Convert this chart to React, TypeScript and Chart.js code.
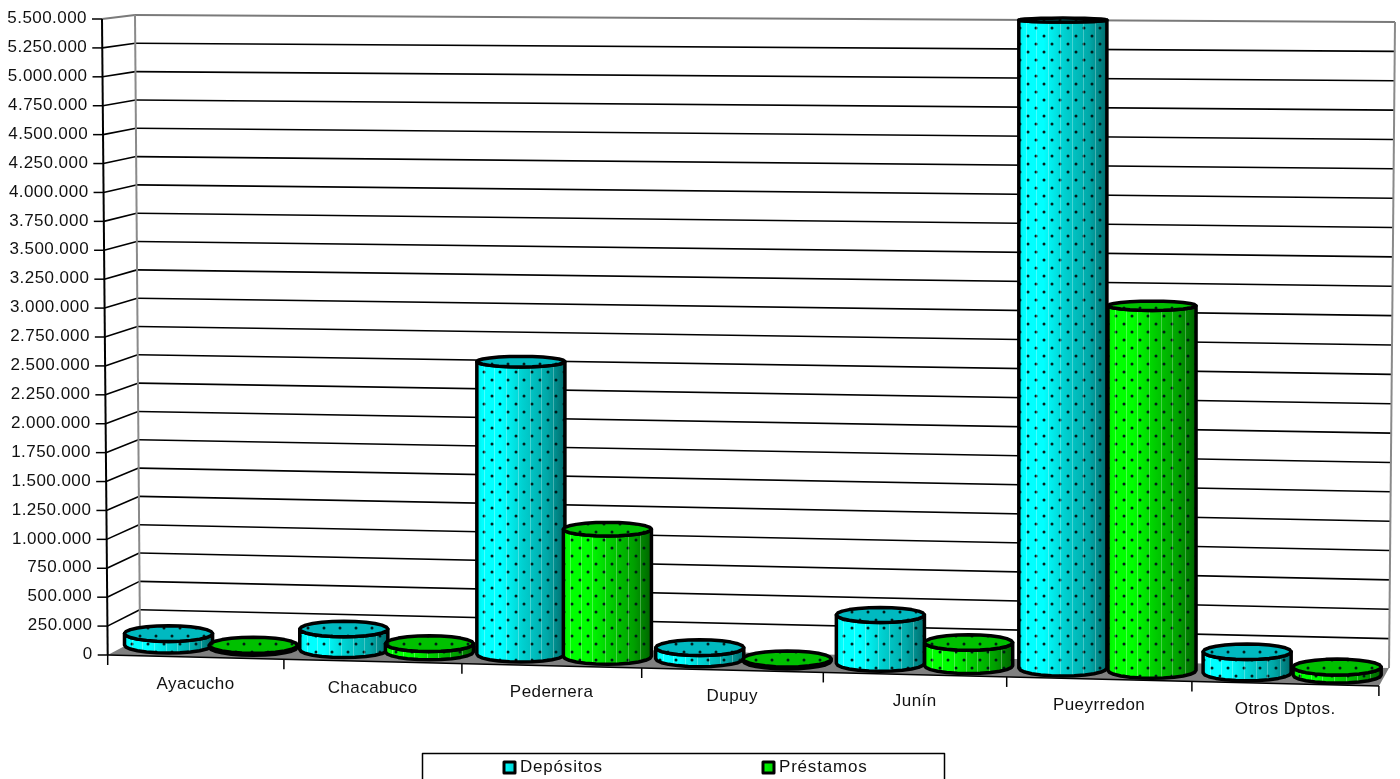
import React, { useEffect, useRef } from "react";
import { Chart, registerables } from "chart.js";

Chart.register(...registerables);

const categories = ["Ayacucho", "Chacabuco", "Pedernera", "Dupuy", "Junín", "Pueyrredon", "Otros Dptos."];
const depositos = [99000, 176000, 2504000, 94000, 412000, 5500000, 178000];
const prestamos = [17000, 69000, 1087000, 17000, 196000, 3090000, 68000];
const seriesNames = ["Depósitos", "Préstamos"];
const axisMax = 5500000;
const axisStep = 250000;

const FONT = '17px "Liberation Sans", Arial, sans-serif';
const TEXT = "#111111";

const frontX = (u: number) => 107.7 + 175.3 * u + 0.9 * u * u;
const frontAxis = (t: number) => ({ x: 107.7 - 5.7 * t, y: 655 - 636 * t });
const wallL = (t: number) => ({ x: 140 - 5 * t, y: 638 - 623 * t });
const wallR = (t: number) => ({ x: 1389 + 6 * t, y: 668 - 646 * t });

function dotTile(): HTMLCanvasElement {
  const c = document.createElement("canvas");
  c.width = 16;
  c.height = 16;
  const g = c.getContext("2d")!;
  for (const [x, y] of [[4, 4], [12, 12]]) {
    g.fillStyle = "rgba(0,20,20,0.95)";
    g.beginPath();
    g.arc(x, y, 1.5, 0, Math.PI * 2);
    g.fill();
  }
  return c;
}

const palettes = [
  { stops: ["#00e8e8", "#00ffff", "#00ffff", "#00d0d0", "#00a8a8", "#006c6c"], top: "#00b9c0" },
  { stops: ["#00e800", "#00ff00", "#00ff00", "#00d000", "#00a000", "#006400"], top: "#00c000" },
];
const stopAt = [0, 0.06, 0.28, 0.52, 0.8, 1];

function ellipsePts(cx: number, cy: number, rx: number, ry: number, from: number, to: number, n: number) {
  const pts: [number, number][] = [];
  for (let i = 0; i <= n; i++) {
    const a = from + ((to - from) * i) / n;
    pts.push([cx + rx * Math.cos(a), cy + ry * Math.sin(a)]);
  }
  return pts;
}

function drawCylinder(ctx: CanvasRenderingContext2D, el: any, area: any, unitW: number, series: number, pattern: CanvasPattern) {
  const u = (el.x - area.left) / unitW;
  const cx = frontX(u) + 16 - 1.4 * u;
  const w = el.width;
  const t = (el.base - el.y) / (area.bottom - area.top);
  const unit = 29.0 + 0.00047 * (cx - 100);
  const bottom = 653 + 0.0257 * (cx - 167);
  const yBase = bottom - 8;
  const yTop = yBase - t * 22 * unit;
  const ryTop = 8 - 6 * t;
  const rx = w / 2;
  const pal = palettes[series];

  const body = [
    ...ellipsePts(cx, yBase, rx, 8, 0, Math.PI, 12),
    ...ellipsePts(cx, yTop, rx, ryTop, Math.PI, 0, 12),
  ];
  const trace = (pts: [number, number][]) => {
    ctx.beginPath();
    pts.forEach(([x, y], i) => (i ? ctx.lineTo(x, y) : ctx.moveTo(x, y)));
    ctx.closePath();
  };
  const grad = ctx.createLinearGradient(cx - rx, 0, cx + rx, 0);
  pal.stops.forEach((c, i) => grad.addColorStop(stopAt[i], c));
  trace(body);
  ctx.fillStyle = grad;
  ctx.fill();

  ctx.save();
  trace(body);
  ctx.clip();
  ctx.fillStyle = pattern;
  ctx.fillRect(cx - rx, yTop - 10, w, yBase - yTop + 20);
  ctx.strokeStyle = "rgba(255,255,255,0.28)";
  ctx.lineWidth = 1;
  for (const f of [0.08, 0.2, 0.33, 0.47, 0.6, 0.73, 0.87]) {
    ctx.beginPath();
    ctx.moveTo(Math.round(cx - rx + f * w) + 0.5, yTop - 10);
    ctx.lineTo(Math.round(cx - rx + f * w) + 0.5, yBase + 10);
    ctx.stroke();
  }
  ctx.restore();

  ctx.lineJoin = "round";
  ctx.lineWidth = 3.5;
  ctx.strokeStyle = "#000";
  trace(body);
  ctx.stroke();

  const topPts = ellipsePts(cx, yTop, rx, ryTop, 0, Math.PI * 2, 24);
  trace(topPts);
  ctx.fillStyle = pal.top;
  ctx.fill();
  ctx.save();
  trace(topPts);
  ctx.clip();
  ctx.fillStyle = pattern;
  ctx.fillRect(cx - rx, yTop - 12, w, 24);
  ctx.restore();
  ctx.lineWidth = 3.5;
  trace(topPts);
  ctx.stroke();
}

const scenePlugin = {
  id: "scene3d",
  beforeDatasetsDraw(chart: any) {
    const ctx: any = chart.ctx;
    const yS = chart.scales.y;
    const xS = chart.scales.x;
    const area = chart.chartArea;
    const H = area.bottom - area.top;
    const unitW = (area.right - area.left) / categories.length;
    const frac = (v: number) => (area.bottom - yS.getPixelForValue(v)) / H;
    const line = (a: any, b: any, color: string, lw: number) => {
      ctx.strokeStyle = color;
      ctx.lineWidth = lw;
      ctx.beginPath();
      ctx.moveTo(a.x, a.y);
      ctx.lineTo(b.x, b.y);
      ctx.stroke();
    };

    ctx.save();
    // side and back walls, with their gridlines
    for (const tick of yS.ticks) {
      const t = frac(tick.value);
      const top = Math.abs(t - 1) < 1e-6;
      if (t > 1e-6) {
        line(frontAxis(t), wallL(t), top ? "#7a7a7a" : "#000", top ? 2 : 1.6);
        line(wallL(t), wallR(t), top ? "#7a7a7a" : "#000", top ? 2 : 1.6);
      }
    }
    line(wallL(0), wallL(1), "#8a8a8a", 2);
    line(wallR(0), wallR(1), "#8a8a8a", 2);

    // floor
    ctx.fillStyle = "#808080";
    ctx.beginPath();
    ctx.moveTo(107.7, 655);
    ctx.lineTo(140, 638);
    ctx.lineTo(1389, 668);
    ctx.lineTo(1379, 686);
    ctx.closePath();
    ctx.fill();
    line({ x: 107.7, y: 655 }, { x: 1379, y: 686 }, "#000", 1.5);
    line(frontAxis(0), frontAxis(1), "#000", 2);

    // value axis ticks and labels
    ctx.font = FONT;
    ctx.letterSpacing = "0.45px";
    ctx.fillStyle = TEXT;
    ctx.textAlign = "right";
    ctx.textBaseline = "middle";
    for (const tick of yS.ticks) {
      const p = frontAxis(frac(tick.value));
      line({ x: p.x - 10, y: p.y }, p, "#000", 1.5);
      ctx.fillText(tick.label, p.x - 15, p.y - 0.5);
    }

    // category axis ticks and labels
    for (let i = 0; i <= categories.length; i++) {
      const x = frontX(i);
      const y = 655 + 0.0244 * (x - 107.7);
      line({ x, y }, { x, y: y + 10 }, "#000", 1.5);
    }
    ctx.textAlign = "center";
    xS.ticks.forEach((tick: any, i: number) => {
      const u = (xS.getPixelForTick(i) - area.left) / unitW;
      const x = frontX(u);
      ctx.fillText(xS.getLabelForValue(tick.value), x, 684 + 0.0235 * (x - 193));
    });

    // cylinders
    const pattern = ctx.createPattern(dotTile(), "repeat")!;
    const metas = chart.data.datasets.map((_: any, d: number) => chart.getDatasetMeta(d));
    for (let i = 0; i < categories.length; i++) {
      metas.forEach((m: any, d: number) => drawCylinder(ctx, m.data[i], area, unitW, d, pattern));
    }

    // legend
    ctx.strokeStyle = "#000";
    ctx.lineWidth = 1.5;
    ctx.strokeRect(422.5, 753.5, 522, 40);
    const markX = [504, 763];
    ctx.letterSpacing = "0.8px";
    chart.data.datasets.forEach((ds: any, d: number) => {
      const pal = palettes[d];
      const g = ctx.createLinearGradient(markX[d], 0, markX[d] + 11, 0);
      g.addColorStop(0, pal.stops[1]);
      g.addColorStop(1, pal.stops[3]);
      ctx.fillStyle = g;
      ctx.fillRect(markX[d], 762, 11, 11);
      ctx.lineWidth = 3;
      ctx.lineJoin = "round";
      ctx.strokeRect(markX[d], 762, 11, 11);
      ctx.fillStyle = TEXT;
      ctx.textAlign = "left";
      ctx.fillText(ds.label, markX[d] + 16, 767.5);
    });
    ctx.restore();
    return false;
  },
};

export default function App() {
  const ref = useRef<HTMLCanvasElement>(null);
  useEffect(() => {
    document.body.style.margin = "0";
    const chart = new Chart(ref.current!, {
      type: "bar",
      data: {
        labels: categories,
        datasets: [
          { label: seriesNames[0], data: depositos, backgroundColor: "#00ffff" },
          { label: seriesNames[1], data: prestamos, backgroundColor: "#00ff00" },
        ],
      },
      options: {
        responsive: false,
        animation: false,
        devicePixelRatio: 1,
        layout: { padding: { left: 107.7, right: 21, top: 19, bottom: 124 } },
        plugins: { legend: { display: false }, title: { display: false }, tooltip: { enabled: false } },
        datasets: { bar: { barPercentage: 1, categoryPercentage: 0.97 } },
        scales: {
          x: {
            grid: { display: false, drawTicks: false },
            border: { display: false },
            ticks: { display: false },
            afterFit: (s: any) => { s.height = 0; },
          },
          y: {
            min: 0,
            max: axisMax,
            grid: { display: false, drawTicks: false },
            border: { display: false },
            ticks: {
              display: false,
              stepSize: axisStep,
              callback: (v: any) => String(v).replace(/\B(?=(\d{3})+(?!\d))/g, "."),
            },
            afterFit: (s: any) => { s.width = 0; },
          },
        },
      } as any,
      plugins: [scenePlugin],
    });
    return () => chart.destroy();
  }, []);
  return (
    <div style={{ position: "absolute", left: 0, top: 0, width: 1400, height: 779, overflow: "hidden", background: "#fff" }}>
      <canvas ref={ref} width={1400} height={779} style={{ display: "block" }} />
    </div>
  );
}
